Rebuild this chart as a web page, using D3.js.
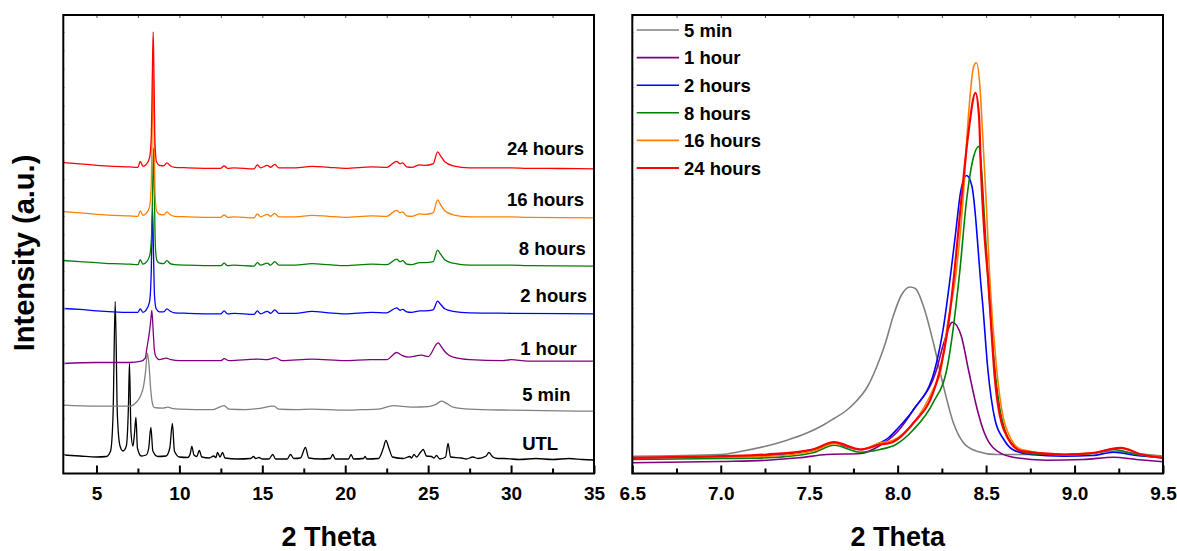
<!DOCTYPE html>
<html>
<head>
<meta charset="utf-8">
<script src="https://cdn.jsdelivr.net/npm/d3@7/dist/d3.min.js"></script>
<style>
body { margin: 0; background: #fff; }
svg text { font-family: "Liberation Sans", Arial, sans-serif; font-weight: bold; fill: #000; }
</style>
</head>
<body>
<script>
// data //{{{
var names   = ["UTL", "5 min", "1 hour", "2 hours", "8 hours", "16 hours", "24 hours"];
var colors  = ["#000000", "#808080", "#800080", "#0000ff", "#008000", "#ff8000", "#ff0000"];
// stacked panel: baseline of each trace and where its label sits (a.u. / 2 theta)
var offsets = [13.5, 62.3, 112.3, 159.7, 207.3, 255.7, 304.7];
var labelX  = [30.67, 30.67, 30.55, 30.55, 30.47, 29.75, 29.75];
var labelY  = [23.3, 72.3, 119, 171.3, 219, 267.3, 319];

var utl = [[3,5],[4,4],[5,3],[5.6,3.5],[5.85,9],[6.0,45],[6.13,158.5],[6.26,45],[6.42,14],[6.6,9],[6.8,14],[6.93,55],[6.99,96.5],[7.08,28],[7.2,14],[7.3,28],[7.38,42.5],[7.47,12],[7.7,4],[8.0,5],[8.15,12],[8.28,32.5],[8.4,9],[8.7,3.5],[9.2,4],[9.42,12],[9.58,36.5],[9.7,9],[10.0,3],[10.5,2.5],[10.65,6],[10.75,13.5],[10.88,5],[11.05,3.5],[11.2,9.5],[11.35,3],[11.8,2],[12.07,4],[12.2,2.5],[12.3,7.5],[12.45,3],[12.6,7.5],[12.75,2],[13.5,1],[14.3,1.5],[14.47,3.5],[14.6,1.5],[14.8,2.5],[15.0,1],[15.4,1],[15.63,5.5],[15.8,1],[16.5,1],[16.7,5.5],[16.9,1.5],[17.3,2],[17.6,12.5],[17.8,2],[18.5,1],[19.1,1.5],[19.25,5.5],[19.4,1],[20.2,1],[20.35,5.5],[20.5,1],[21.1,1.5],[21.2,3.5],[21.3,1],[22.0,1.5],[22.3,12],[22.45,19.5],[22.65,11],[22.85,3],[23.5,1.5],[23.9,3.5],[24.0,2],[24.15,5.5],[24.3,3],[24.55,8],[24.7,10.5],[24.9,4],[25.2,3.5],[25.35,2],[25.5,4.5],[25.7,1],[26.05,3],[26.2,16.5],[26.35,3],[27.0,2],[27.3,1],[27.7,3],[28.0,1.5],[28.5,4],[28.66,7.5],[28.9,3],[29.2,1.5],[29.6,1.5],[30.5,0.5],[31.5,1.5],[32.5,0.5],[33.5,1.5],[34.3,0.5],[35,0]];
var min5 = [[3,6],[5,5],[7,5],[7.4,9],[7.65,15],[7.84,25],[7.95,38],[8.07,58],[8.17,46],[8.27,22],[8.37,8],[8.5,3.5],[9.0,3],[9.3,4],[9.6,2.5],[10,2],[12,1.5],[12.7,5.5],[13,2],[14,1.5],[14.7,2.5],[15.7,5],[16,2],[17,1.5],[18,2],[20,1],[21,1.5],[22,2],[22.9,5.5],[24,4],[25,4.5],[25.5,7],[25.8,10],[26.1,8],[26.5,4],[27.5,2],[30,1],[35,0]];
var hour1 = [[3,-2.3],[5,-1.3],[7,-1.3],[7.7,0],[7.94,3],[8.04,13],[8.2,30],[8.28,42],[8.34,50.7],[8.42,30],[8.5,10],[8.6,4],[8.8,1.5],[9.2,3],[9.5,1.5],[10,0.5],[12.5,0.5],[12.7,2.5],[13,0.5],[14.7,2],[15.3,1.5],[15.8,3.5],[16.2,0.5],[18,2],[20,0.5],[21.5,1.5],[22.5,1.5],[23.1,8.7],[23.4,6],[23.8,4],[24.6,6],[25.0,4.5],[25.6,18.4],[25.85,13],[26.1,8],[26.5,4],[27.5,1.5],[29.5,0.5],[30.0,1.5],[31,0],[35,0]];
var hour2 = [[3,5.3],[4,4.5],[5,3],[6,2],[7,1.5],[7.5,1.5],[7.64,5],[7.8,1.5],[8.0,4],[8.2,12],[8.3,40],[8.38,106],[8.44,60],[8.5,18],[8.6,5],[8.8,2],[9.05,2],[9.25,5],[9.45,2.5],[9.7,1],[10.5,0.5],[12.5,0],[12.7,3],[12.9,0],[13.3,0.5],[14.5,-0.5],[14.7,3],[14.9,0],[15.3,2.5],[15.5,0.5],[15.75,4],[16,0.5],[17,0.5],[18,2.5],[19,1],[20,0],[21.6,1.5],[22.5,1],[23.1,6],[23.3,3.5],[23.46,4.5],[23.7,2],[24,1.5],[24.5,3],[24.8,3],[25.3,4],[25.57,12.6],[25.75,9.5],[26,5],[26.5,2.5],[27.5,1],[30,0.5],[35,0]];
var hour8 = [[3,5.7],[4,4.5],[5,3.5],[6,2.5],[7,2],[7.5,1.5],[7.64,6.5],[7.8,2],[8.0,4],[8.2,10],[8.32,30],[8.39,80],[8.44,118],[8.49,75],[8.55,20],[8.64,6],[8.8,3],[9.05,2.5],[9.25,5.5],[9.45,2.5],[9.7,1.5],[10.5,1],[12.5,0.5],[12.7,3],[12.9,0.5],[13.3,1],[14.5,0],[14.7,3.5],[14.9,1],[15.3,3],[15.5,1],[15.75,4.5],[16,1],[17,1],[18,2.5],[19,1.5],[20,0.5],[21.6,2],[22.5,1.5],[23.1,7],[23.3,4.5],[23.46,5.5],[23.7,2],[24,1.5],[24.5,3.5],[24.8,3.5],[25.3,4.5],[25.57,16],[25.75,12],[26,6.5],[26.5,3],[27.5,1],[30,1],[31,0.5],[35,0]];
var hour16 = [[3,6.3],[4,5],[5,3.5],[6,2.5],[7,2],[7.5,1.5],[7.64,7],[7.8,2.5],[8.0,4.5],[8.2,11],[8.3,32],[8.37,100],[8.42,148],[8.47,95],[8.53,26],[8.62,7],[8.8,3.5],[9.05,3],[9.25,6],[9.45,3],[9.7,1.5],[10.5,1],[12.5,0.5],[12.7,3],[12.9,0.5],[13.3,1],[14.5,0],[14.7,4],[14.9,1],[15.3,3.5],[15.5,1.5],[15.75,4.5],[16,1],[17,1],[18,2.5],[19,1.5],[20,0.5],[21.6,2],[22.5,1.5],[23.1,7.5],[23.3,5],[23.46,6],[23.7,2],[24,1.5],[24.5,4],[24.8,3.5],[25.3,5],[25.57,18],[25.75,13],[26,7],[26.5,3],[27.5,1],[30,1],[31,0.5],[35,0]];
var hour24 = [[3,6.3],[4,5],[5,3.5],[6,2.5],[7,2],[7.5,1.5],[7.64,7.5],[7.8,2.5],[8.0,4.5],[8.2,11],[8.3,30],[8.37,95],[8.42,137],[8.47,90],[8.53,25],[8.62,7],[8.8,3.5],[9.05,3],[9.25,6],[9.45,3],[9.7,1.5],[10.5,1],[12.5,0.5],[12.7,3],[12.9,0.5],[13.3,1],[14.5,0],[14.7,4],[14.9,1],[15.3,3.5],[15.5,1.5],[15.75,4.5],[16,1],[17,1],[18,2.5],[19,1.5],[20,0.5],[21.6,2],[22.5,1.5],[23.1,7.5],[23.3,5],[23.46,6],[23.7,2],[24,1.5],[24.5,4],[24.8,3.5],[25.3,5],[25.57,17],[25.75,13],[26,7],[26.5,3],[27.5,1],[30,1],[31,0.5],[33,0.3],[35,0]];
var stacked = [utl, min5, hour1, hour2, hour8, hour16, hour24];

// zoomed panel: 6.5 - 9.5 degrees, same sample order without UTL
var zGray   = [[6.5,17.3],[7.0,19],[7.11,22],[7.26,27.5],[7.37,33],[7.49,40.7],[7.58,48.5],[7.64,55],[7.71,63],[7.77,73],[7.83,87],[7.88,106],[7.93,130],[7.976,158],[8.02,178],[8.07,186.5],[8.1,185],[8.146,167.3],[8.202,130.7],[8.259,87.3],[8.315,50.7],[8.372,30.7],[8.447,22.3],[8.56,19],[8.84,19],[9.05,19.5],[9.22,22.3],[9.35,20],[9.5,17.3]];
var zPurple = [[6.5,10.7],[7.0,12],[7.26,13.3],[7.44,15.7],[7.6,19],[7.79,20],[7.9,28],[8.0,42],[8.09,64],[8.22,104],[8.26,130],[8.31,151.3],[8.36,137.3],[8.40,104],[8.45,64],[8.49,40.7],[8.54,25.7],[8.64,16.7],[8.84,13.3],[9.05,14],[9.22,16.3],[9.35,14],[9.5,11.7]];
var zBlue   = [[6.5,15.7],[7.07,16.7],[7.35,19],[7.52,24],[7.64,30.7],[7.7,27.3],[7.79,24],[7.88,29],[7.95,36],[8.0,45],[8.09,64],[8.21,104],[8.26,147.3],[8.30,200],[8.33,244],[8.355,280.7],[8.39,298],[8.42,287.3],[8.44,257.3],[8.455,224],[8.47,190],[8.48,170.7],[8.51,104],[8.55,54],[8.6,34],[8.65,24],[8.75,19],[8.94,17.3],[9.1,18],[9.22,21.3],[9.35,18],[9.5,15.7]];
var zGreen  = [[6.5,14],[7.0,15],[7.26,15.7],[7.52,20.7],[7.64,28.3],[7.79,21.3],[7.9,24],[7.99,29],[8.09,44],[8.2,70.7],[8.28,106],[8.35,200],[8.39,274],[8.43,317.3],[8.46,327.3],[8.47,314],[8.49,257.3],[8.51,197.3],[8.55,104],[8.59,54],[8.66,27.3],[8.75,19.7],[8.94,18.7],[9.1,20],[9.22,24],[9.35,19],[9.5,15.7]];
var zOrange = [[6.5,15.7],[7.0,16.5],[7.26,17.3],[7.52,22.3],[7.64,30],[7.79,24],[7.9,30.7],[7.97,33],[8.09,50.7],[8.2,84],[8.245,104],[8.28,147.3],[8.33,200],[8.37,274],[8.40,357.3],[8.43,407.3],[8.445,410.7],[8.465,387.3],[8.48,340.7],[8.50,274],[8.52,197.3],[8.56,104],[8.61,47.3],[8.70,24],[8.94,19],[9.1,20.5],[9.26,25.7],[9.38,19],[9.5,15.7]];
var zRed    = [[6.5,15.7],[7.0,17.3],[7.26,19],[7.52,24],[7.64,31.3],[7.79,24],[7.9,29],[7.97,31.3],[8.09,50.7],[8.2,80.7],[8.24,104],[8.28,140.7],[8.32,200],[8.36,274],[8.40,340.7],[8.44,380.7],[8.46,357.3],[8.47,307.3],[8.49,240.7],[8.51,197.3],[8.55,94],[8.60,44],[8.70,22.3],[8.94,19],[9.1,20.5],[9.26,25.7],[9.38,19],[9.5,15.7]];
var zoomed = [zGray, zPurple, zBlue, zGreen, zOrange, zRed];

var ticksL = [5, 10, 15, 20, 25, 30, 35];
var ticksR = [6.5, 7.0, 7.5, 8.0, 8.5, 9.0, 9.5];
//}}}

var W = 1177, H = 551;
var top_ = 15, bottom = 473.5;
var svg = d3.select("body").append("svg").attr("width", W).attr("height", H);

function panel(id, x0, x1, dom, majors, fmt) { //{{{
	var p = {};
	p.x = d3.scaleLinear().domain(dom).range([x0, x1]);
	p.y = d3.scaleLinear().domain([0, 458.5]).range([bottom, top_]);
	var step = majors[1] - majors[0];
	var minors = majors.slice(0, -1).map(function(d) { return d + step / 2; });
	if (majors[0] - step / 2 > dom[0]) minors.unshift(majors[0] - step / 2);

	svg.append("clipPath").attr("id", id).append("rect")
		.attr("x", x0).attr("y", top_).attr("width", x1 - x0).attr("height", bottom - top_);
	p.g = svg.append("g").attr("clip-path", "url(#" + id + ")");

	// bottom axis, ticks pointing in
	var ax = svg.append("g").attr("transform", "translate(0," + bottom + ")")
		.call(d3.axisBottom(p.x).tickValues(majors).tickFormat(fmt).tickSizeInner(-8).tickSizeOuter(0).tickPadding(13));
	ax.select(".domain").remove();
	ax.selectAll("line").attr("stroke", "#000").attr("stroke-width", 2);
	ax.selectAll("text").attr("font-size", 19).attr("dy", "0.71em");
	svg.append("g").attr("transform", "translate(0," + bottom + ")")
		.call(d3.axisBottom(p.x).tickValues(minors).tickFormat("").tickSizeInner(-5).tickSizeOuter(0))
		.call(function(g) { g.select(".domain").remove(); g.selectAll("line").attr("stroke", "#000").attr("stroke-width", 2); });
	// faint ticks on the top edge
	svg.append("g").attr("transform", "translate(0," + top_ + ")")
		.call(d3.axisTop(p.x).tickValues(majors.concat(minors)).tickFormat("").tickSizeInner(-3).tickSizeOuter(0))
		.call(function(g) { g.select(".domain").remove(); g.selectAll("line").attr("stroke", "#555"); });
	// faint ticks on the left edge
	svg.append("g").attr("transform", "translate(" + x0 + ",0)")
		.call(d3.axisLeft(p.y).tickValues(d3.range(18.4, 458, 18.4)).tickFormat("").tickSizeInner(-2).tickSizeOuter(0))
		.call(function(g) { g.select(".domain").remove(); g.selectAll("line").attr("stroke", "#c8c8c8"); });

	svg.append("rect").attr("x", x0).attr("y", top_).attr("width", x1 - x0).attr("height", bottom - top_)
		.attr("fill", "none").attr("stroke", "#000").attr("stroke-width", 2);

	svg.append("text").attr("x", (x0 + x1) / 2).attr("y", 546).attr("text-anchor", "middle")
		.attr("font-size", 27).text("2 Theta");
	return p;
}
//}}}

// left: stacked patterns //{{{
var L = panel("clipL", 63.3, 594, [3, 35], ticksL, d3.format("d"));
stacked.forEach(function(s, i) {
	var line = d3.line()
		.x(function(d) { return L.x(d[0]); })
		.y(function(d) { return L.y(d[1] + offsets[i]); })
		.curve(d3.curveMonotoneX);
	L.g.append("path").datum(s).attr("d", line)
		.attr("fill", "none").attr("stroke", colors[i]).attr("stroke-width", 1.3).attr("stroke-linejoin", "round");
});
names.forEach(function(n, i) {
	svg.append("text").attr("x", L.x(labelX[i])).attr("y", L.y(labelY[i]))
		.attr("font-size", 18.5).text(n);
});
//}}}

// right: zoom on the main reflection //{{{
var R = panel("clipR", 632.3, 1163, [6.5, 9.5], ticksR, d3.format(".1f"));
zoomed.forEach(function(s, i) {
	var line = d3.line()
		.x(function(d) { return R.x(d[0]); })
		.y(function(d) { return R.y(d[1]); })
		.curve(d3.curveMonotoneX);
	R.g.append("path").datum(s).attr("d", line)
		.attr("fill", "none").attr("stroke", colors[i + 1])
		.attr("stroke-width", i == 5 ? 2.2 : 1.6).attr("stroke-linejoin", "round");
});
// legend
names.slice(1).forEach(function(n, i) {
	var y = 30 + i * 27.6;
	svg.append("line").attr("x1", 636.7).attr("x2", 679).attr("y1", y).attr("y2", y)
		.attr("stroke", colors[i + 1]).attr("stroke-width", i == 5 ? 2.2 : 1.6);
	svg.append("text").attr("x", 684).attr("y", y + 6.7).attr("font-size", 18.5).text(n);
});
//}}}

// y title
svg.append("text").attr("transform", "translate(34,253) rotate(-90)")
	.attr("text-anchor", "middle").attr("font-size", 29).text("Intensity (a.u.)");
</script>
</body>
</html>
